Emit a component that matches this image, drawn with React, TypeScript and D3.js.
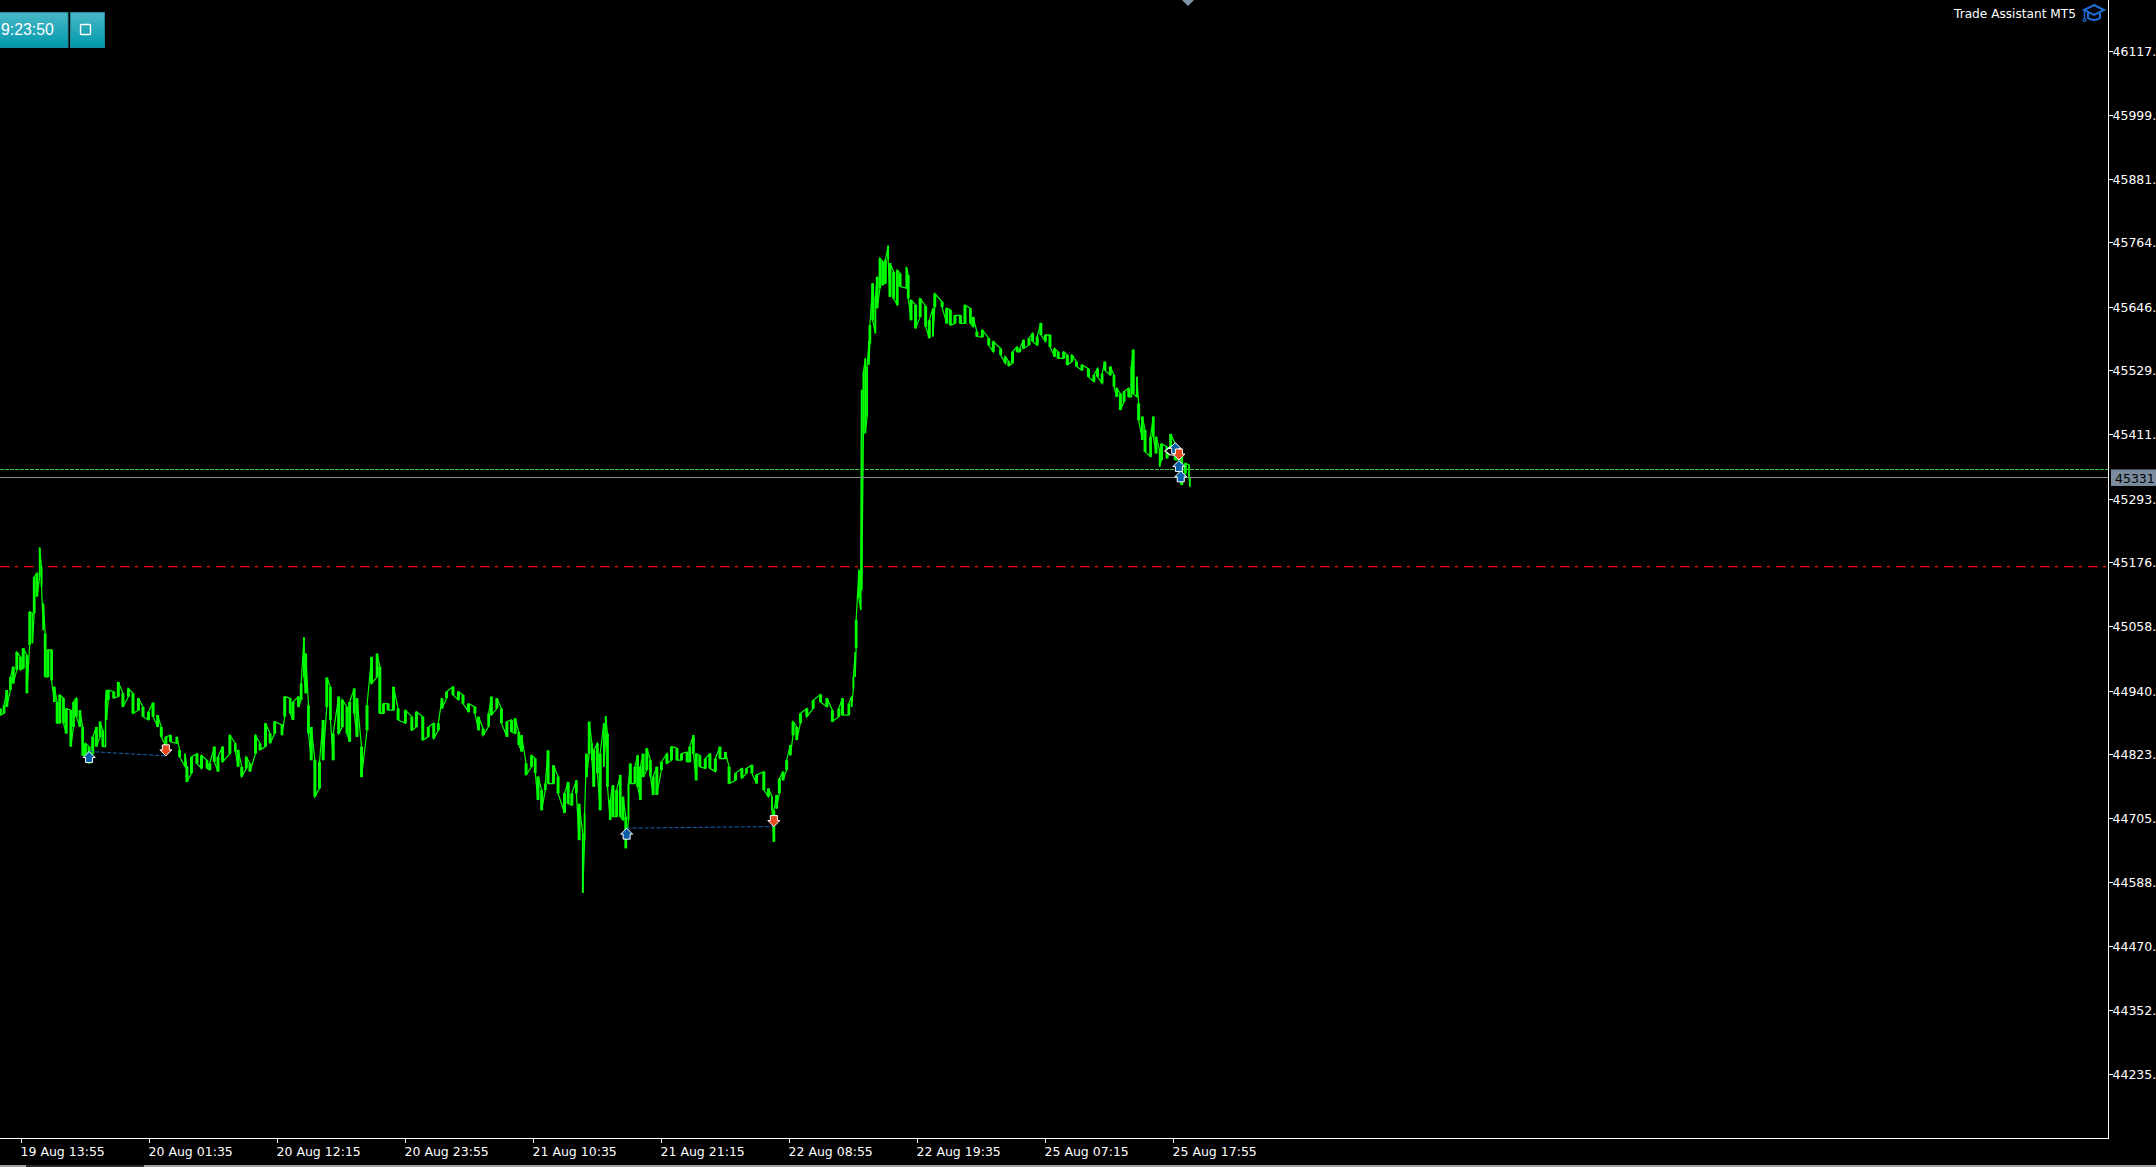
import React, { useEffect, useRef } from 'react';
import * as d3 from 'd3';

// M5 bars counted from the first time label
const bars1 = [-22,-18,-15,-11,-8,-4,0,3,7,10,13,15,18,21,23,25,27,30,34,37,40,43,47,50,55,58,61,65,68,71,75,79,83,87,90,93,94,96,102,107,112,118,123,129,134,140,145,150,154,159,164,171,174,180,182,187,193,198,204,207,212,216,221,229,235,238,242,247,251,257,262,268,273,278,286,289,295,298,304,307,310,312,315,318,322,327,331,335,339,342,348,352,357,360,365,368,373,379,384,390,393,397,402,408,413,421,428,433,440,446,452,457];
const highs1 = [44907,44913,44941,44965,44984,45011,45002,45018,45005,45085,45082,45149,45156,45203,45168,45100,45045,45015,45015,44947,44919,44932,44926,44907,44904,44919,44926,44904,44873,44843,44837,44855,44873,44883,44867,44923,44941,44941,44938,44956,44935,44944,44935,44926,44910,44901,44918,44895,44873,44855,44858,44855,44831,44824,44800,44818,44824,44821,44812,44806,44837,44818,44837,44858,44843,44831,44800,44818,44806,44858,44843,44880,44861,44883,44877,44929,44926,44919,44929,44953,45038,45008,44913,44873,44812,44809,44886,44964,44947,44861,44929,44923,44910,44919,44944,44926,44837,44913,45002,45008,44984,44916,44916,44947,44907,44904,44892,44901,44892,44873,44880,44880];
const lows1 = [44895,44898,44910,44941,44953,44978,44978,44981,44935,45024,45027,45082,45113,45149,45131,45051,44965,44965,44959,44919,44880,44880,44880,44861,44837,44873,44892,44873,44821,44821,44806,44824,44837,44855,44837,44837,44886,44923,44926,44929,44910,44929,44898,44904,44892,44886,44892,44873,44855,44837,44846,44843,44818,44800,44772,44788,44806,44797,44797,44794,44809,44791,44809,44824,44828,44800,44782,44797,44791,44824,44831,44837,44843,44861,44858,44892,44898,44886,44910,44923,44965,44935,44861,44812,44745,44760,44812,44910,44886,44812,44861,44873,44861,44846,44898,44855,44781,44867,44953,44965,44898,44898,44904,44904,44886,44880,44867,44873,44849,44855,44852,44867];

const bars2 = [461,466,473,479,484,490,497,501,506,512,515,521,526,532,537,541,545,548,553,559,563,566,570,574,577,583,588,595,599,603,608,611,615,617,619,622,625,627,631,634,638,640,642,645,648,652,656,659,662,665,667,672,675,678,681,685,689,692,696,701,707,712,718,723,729,732,736,739,743,749,754,760,765,771,775,782,789,794,800,805,813,818,822,824,827,830,834,838,842,845,849,853,860,867,875,882,888,895,899,906,909,911,913,914,917,919];
const highs2 = [44926,44938,44947,44938,44932,44916,44910,44892,44870,44898,44929,44926,44907,44883,44886,44889,44864,44858,44806,44821,44815,44782,44757,44769,44830,44803,44782,44751,44772,44751,44775,44732,44677,44714,44824,44883,44843,44831,44843,44824,44880,44893,44861,44739,44766,44757,44785,44745,44708,44769,44806,44800,44821,44800,44824,44834,44812,44782,44800,44809,44824,44837,44834,44824,44827,44837,44858,44824,44821,44815,44824,44815,44837,44827,44800,44788,44797,44797,44803,44785,44791,44760,44745,44720,44748,44778,44791,44812,44840,44883,44873,44898,44907,44922,44933,44926,44904,44907,44926,44916,44929,44965,45011,45070,45162,45158];
const lows2 = [44907,44926,44932,44923,44916,44901,44898,44867,44858,44874,44895,44907,44880,44855,44864,44861,44840,44828,44785,44800,44788,44739,44720,44757,44769,44769,44751,44715,44732,44729,44751,44665,44568,44665,44781,44824,44812,44763,44788,44720,44800,44849,44763,44702,44708,44708,44708,44702,44650,44702,44769,44769,44763,44739,44781,44794,44782,44748,44748,44794,44806,44812,44812,44812,44809,44809,44824,44775,44800,44797,44797,44791,44815,44815,44769,44775,44779,44788,44788,44769,44757,44745,44720,44662,44723,44751,44775,44794,44821,44858,44849,44880,44892,44907,44919,44910,44883,44892,44895,44895,44910,44944,44965,45018,45110,45088];

const bars3 = [920,922,924,926,928,929,932,935,937,940,943,946,949,951,955,959,962,969,971,974,979,984,990,994,998,1000,1008,1013,1017,1022,1028,1033,1039,1042,1046,1052,1059,1064,1072,1077,1081,1085,1090,1093,1097,1103,1107,1112,1116,1121,1126,1131,1135,1141,1145,1150,1155,1161,1168,1174,1178,1183,1186,1192,1196,1199,1203,1207,1212,1215,1217,1221,1223,1227,1230,1236,1239,1242,1246,1248,1254,1258,1263,1267,1270,1274,1278,1279];
const highs3 = [45493,45526,45551,45536,45582,45612,45689,45664,45701,45735,45729,45732,45758,45726,45710,45713,45707,45719,45704,45658,45649,45661,45647,45621,45643,45670,45655,45643,45640,45630,45630,45649,45643,45627,45600,45603,45588,45582,45569,45554,45545,45563,45572,45569,45585,45588,45597,45591,45616,45594,45594,45569,45563,45563,45557,45557,45545,45539,45532,45520,45532,45523,45545,45536,45520,45496,45486,45490,45496,45536,45567,45517,45468,45444,45419,45407,45444,45407,45382,45394,45388,45412,45394,45382,45376,45358,45355,45333];
const lows3 = [45125,45413,45413,45444,45539,45578,45621,45597,45643,45680,45686,45689,45732,45664,45661,45649,45683,45680,45661,45621,45606,45627,45609,45588,45591,45645,45645,45615,45612,45615,45615,45615,45615,45609,45591,45590,45575,45563,45557,45542,45537,45542,45563,45563,45569,45575,45582,45575,45594,45582,45572,45554,45551,45551,45539,45545,45536,45529,45517,45508,45517,45505,45529,45520,45499,45480,45456,45471,45480,45480,45486,45480,45437,45401,45379,45370,45407,45376,45352,45364,45367,45388,45364,45364,45318,45339,45333,45315];

const priceTicks = [46117,45999,45881,45764,45646,45529,45411,45293,45176,45058,44940,44823,44705,44588,44470,44352,44235];
const timeTickBars = [0,140,280,420,560,700,840,980,1120,1260];
const timeLabels = ['19 Aug 13:55','20 Aug 01:35','20 Aug 12:15','20 Aug 23:55','21 Aug 10:35','21 Aug 21:15','22 Aug 08:55','22 Aug 19:35','25 Aug 07:15','25 Aug 17:55'];

// trades: bar, price, direction
const tradeBars = [75,159,663,824,1263,1267,1269,1267];
const tradePrices = [44828,44820,44687,44690,45396,45363,45344,45364];
const tradeSides = ['buy','sell','buy','sell','buy','buy','buy','sell'];
const tradeLinks = [[0, 1], [2, 3]];

const lastPrice = 45331;
const askPrice = 45346;
const alertPrice = 45168;

const WIDTH = 2156;
const HEIGHT = 1167;
const plotRight = 2108.5;
const plotBottom = 1138.5;

const allBars = [...bars1, ...bars2, ...bars3];
const allHighs = [...highs1, ...highs2, ...highs3];
const allLows = [...lows1, ...lows2, ...lows3];

const x = d3.scaleLinear().domain([0, 1400]).range([20.5, 1300.5]);
const y = d3.scaleLinear().domain([44235, 46117]).range([1074, 50.5]);

const upArrow = 'M0,0 L6,6 L3.5,6 L3.5,11 L-3.5,11 L-3.5,6 L-6,6 Z';
const downArrow = 'M0,0 L6,-6 L3.5,-6 L3.5,-11 L-3.5,-11 L-3.5,-6 L-6,-6 Z';

const App: React.FC = () => {
  const axisX = useRef<SVGGElement>(null);
  const axisY = useRef<SVGGElement>(null);

  useEffect(() => {
    const gx = d3.select(axisX.current!);
    gx.call(
      d3.axisBottom(x)
        .tickValues(timeTickBars)
        .tickFormat((_d, i) => timeLabels[i])
        .tickSize(4)
        .tickSizeOuter(0) as any
    );
    gx.select('.domain').remove();
    gx.selectAll('line').attr('stroke', '#fff').attr('shape-rendering', 'crispEdges');
    gx.selectAll('text')
      .attr('text-anchor', 'start')
      .attr('x', -0.5)
      .attr('y', 8.5)
      .attr('fill', '#fff')
      .style('font-family', '"DejaVu Sans"')
      .style('font-size', '12.5px');

    const gy = d3.select(axisY.current!);
    gy.call(
      d3.axisRight(y)
        .tickValues(priceTicks)
        .tickFormat((d) => `${d}.`)
        .tickSize(4)
        .tickPadding(0)
        .tickSizeOuter(0) as any
    );
    gy.select('.domain').remove();
    gy.selectAll('line').attr('stroke', '#fff').attr('shape-rendering', 'crispEdges');
    gy.selectAll('text')
      .attr('fill', '#fff')
      .attr('dy', '0.36em')
      .style('font-family', '"DejaVu Sans"')
      .style('font-size', '12.5px');
  }, []);

  // zigzag through the buckets joins the vertical high-low strokes
  const zigzag: [number, number][] = [];
  allBars.forEach((b, i) => {
    const first = i % 2 === 0 ? allHighs[i] : allLows[i];
    const second = i % 2 === 0 ? allLows[i] : allHighs[i];
    zigzag.push([x(b), y(first)], [x(b), y(second)]);
  });
  const priceLine = d3.line()(zigzag) || '';

  return (
    <svg
      width={WIDTH}
      height={HEIGHT}
      style={{ position: 'fixed', left: 0, top: 0, display: 'block', background: '#000' }}
    >
      <defs>
        <linearGradient id="btn" x1="0" y1="0" x2="0" y2="1">
          <stop offset="0" stopColor="#4ab8c6" />
          <stop offset="1" stopColor="#0098ac" />
        </linearGradient>
      </defs>

      {/* horizontal price levels */}
      <line x1={0} x2={plotRight} y1={y(alertPrice)} y2={y(alertPrice)} stroke="#ff0000" strokeWidth={1.2} strokeDasharray="9.5 5.5 3 6" />
      <line x1={0} x2={plotRight} y1={y(askPrice)} y2={y(askPrice)} stroke="#3fc53f" strokeWidth={1} strokeDasharray="3.5 1.5" shapeRendering="crispEdges" />

      {/* price series */}
      <path d={priceLine} fill="none" stroke="#00ff00" strokeWidth={1.2} />
      {allBars.map((b, i) => {
        const gap = i < allBars.length - 1 ? x(allBars[i + 1]) - x(b) : 1.5;
        return (
          <line key={i} x1={x(b)} x2={x(b)} y1={y(allHighs[i])} y2={y(allLows[i])} stroke="#00ff00" strokeWidth={Math.max(1.4, Math.min(3, gap))} />
        );
      })}

      <line x1={0} x2={plotRight} y1={y(lastPrice)} y2={y(lastPrice)} stroke="#8c8c9a" strokeWidth={1} shapeRendering="crispEdges" />

      {/* trade links and arrows */}
      {tradeLinks.map(([a, b], i) => (
        <line key={i} x1={x(tradeBars[a])} x2={x(tradeBars[b])} y1={y(tradePrices[a])} y2={y(tradePrices[b])} stroke="#1464b4" strokeWidth={1} strokeDasharray="4 2" />
      ))}
      <path d="M1170,447 L1165,451 L1170,455 L1175,455 L1175,447 Z" fill="#000" stroke="#fff" strokeWidth={1.2} />
      {tradeBars.map((b, i) => (
        <path
          key={i}
          transform={`translate(${x(b)},${y(tradePrices[i])})`}
          d={tradeSides[i] === 'buy' ? upArrow : downArrow}
          fill={tradeSides[i] === 'buy' ? '#0b5fa8' : '#e64a1e'}
          stroke="#fff"
          strokeWidth={1}
        />
      ))}

      {/* axes */}
      <line x1={plotRight} x2={plotRight} y1={0} y2={plotBottom} stroke="#fff" strokeWidth={1} shapeRendering="crispEdges" />
      <line x1={0} x2={plotRight} y1={plotBottom} y2={plotBottom} stroke="#fff" strokeWidth={1} shapeRendering="crispEdges" />
      <g ref={axisX} transform={`translate(0,${plotBottom})`} />
      <g ref={axisY} transform={`translate(${plotRight},0)`} />

      {/* last price tag */}
      <rect x={2111} y={y(lastPrice) - 8.5} width={45} height={16.5} fill="#7a8c9e" />
      <text x={2115} y={y(lastPrice) + 5} fontFamily='"DejaVu Sans"' fontSize={12.5} fill="#000">
        {lastPrice}
      </text>

      {/* top left clock buttons */}
      <rect x={-2} y={12.5} width={70} height={35} fill="url(#btn)" stroke="#1d8a9a" />
      <rect x={70.5} y={12.5} width={34} height={35} fill="url(#btn)" stroke="#1d8a9a" />
      <text x={1} y={35} fontFamily='"Liberation Sans"' fontSize={15.8} fill="#fff">9:23:50</text>
      <rect x={80.5} y={24.5} width={10} height={10} fill="none" stroke="#fff" strokeWidth={1.4} rx={1} />
      <line x1={90.5} x2={90.5} y1={24} y2={35} stroke="#fff" strokeWidth={1} opacity={0.6} />

      {/* product label and cap icon */}
      <text x={1954} y={18} fontFamily='"DejaVu Sans"' fontSize={12.5} textLength={122} lengthAdjust="spacingAndGlyphs" fill="#fff">Trade Assistant MT5</text>
      <g fill="none" stroke="#1e6fd9" strokeWidth={2}>
        <path d="M2094,5 L2104,10 L2094,15 L2084,10 Z" fill="#000" />
        <path d="M2088,13 L2088,18 Q2094,22 2100,18 L2100,13" />
        <line x1={2084.5} y1={11} x2={2084.5} y2={18} strokeWidth={1.5} />
        <circle cx={2084.5} cy={20} r={1.5} strokeWidth={1.2} />
      </g>

      {/* small marker on the top edge */}
      <path d="M1182,0 L1194,0 L1188,6 Z" fill="#7f93aa" />

      {/* scrollbar strip */}
      <rect x={0} y={1165} width={26} height={2} fill="#a0a0a0" />
      <rect x={26} y={1165} width={118} height={2} fill="#2a2a2a" />
      <rect x={144} y={1165} width={2012} height={2} fill="#a0a0a0" />
    </svg>
  );
};

export default App;
